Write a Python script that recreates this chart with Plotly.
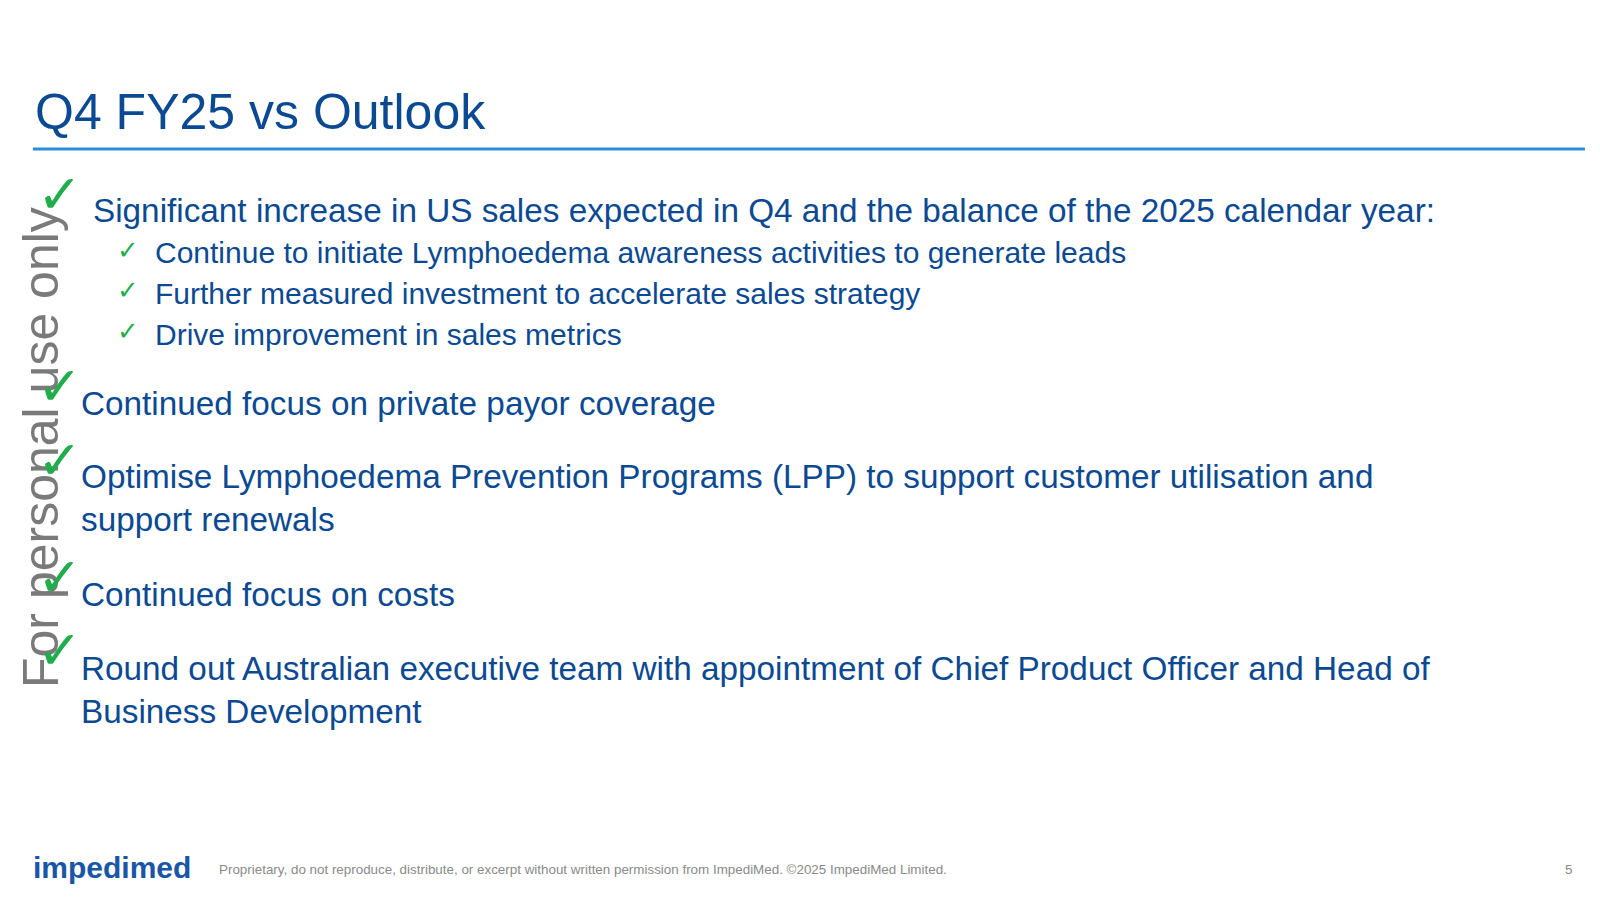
import plotly.graph_objects as go

title = "Q4 FY25 vs Outlook"
main_items = [
    "Significant increase in US sales expected in Q4 and the balance of the 2025 calendar year:",
    "Continued focus on private payor coverage",
    "Optimise Lymphoedema Prevention Programs (LPP) to support customer utilisation and<br>support renewals",
    "Continued focus on costs",
    "Round out Australian executive team with appointment of Chief Product Officer and Head of<br>Business Development",
]
main_y = [207, 396, 489, 584, 678]
main_x = [89, 77, 77, 77, 77]
check_y = [191, 380, 452, 567, 639]
sub_items = [
    "Continue to initiate Lymphoedema awareness activities to generate leads",
    "Further measured investment to accelerate sales strategy",
    "Drive improvement in sales metrics",
]
sub_y = [248, 288, 328]
footer = "Proprietary, do not reproduce, distribute, or excerpt without written permission from ImpediMed. ©2025 ImpediMed Limited."

BLUE = "#0b4a93"
GREEN = "#1fae4b"
FONT = "Liberation Sans, Arial, sans-serif"

fig = go.Figure()
ann = []
ann.append(dict(x=32, y=110, text=title, xanchor="left", yanchor="middle",
                font=dict(size=50, color=BLUE, family=FONT)))
# watermark
ann.append(dict(x=40, y=440, text="For personal use only", textangle=-90,
                font=dict(size=50, color="#7a7a7a", family=FONT)))
for t, x, y in zip(main_items, main_x, main_y):
    ann.append(dict(x=x, y=y, text=t, xanchor="left", yanchor="middle", align="left",
                    font=dict(size=33.3, color=BLUE, family=FONT)))
for y in check_y:
    ann.append(dict(x=58, y=y, text="✓", xanchor="center", yanchor="middle",
                    font=dict(size=54, color=GREEN, family="DejaVu Sans")))
for t, y in zip(sub_items, sub_y):
    ann.append(dict(x=150, y=y, text=t, xanchor="left", yanchor="middle",
                    font=dict(size=30, color=BLUE, family=FONT)))
    ann.append(dict(x=125, y=y - 3, text="✓", xanchor="center", yanchor="middle",
                    font=dict(size=26, color=GREEN, family="DejaVu Sans")))
ann.append(dict(x=30, y=853, text="<b>impedimed</b>", xanchor="left", yanchor="middle",
                font=dict(size=30, color="#1a56a8", family=FONT)))
ann.append(dict(x=212, y=855, text=footer, xanchor="left", yanchor="middle",
                font=dict(size=13.4, color="#8a8a8a", family=FONT)))
ann.append(dict(x=1537, y=855, text="5", xanchor="center", yanchor="middle",
                font=dict(size=13.4, color="#8a8a8a", family=FONT)))
for a in ann:
    a.update(xref="x", yref="y", showarrow=False)

fig.add_shape(type="line", x0=32, x1=1553, y0=146, y1=146, line=dict(color="#2a8de0", width=3))
fig.update_layout(
    width=1600, height=900, margin=dict(l=0, r=0, t=0, b=0),
    plot_bgcolor="white", paper_bgcolor="white", annotations=ann,
    xaxis=dict(range=[7.6, 1575.6], visible=False),
    yaxis=dict(range=[892.4, 7.4], visible=False),
)
fig.write_html("out.html")
